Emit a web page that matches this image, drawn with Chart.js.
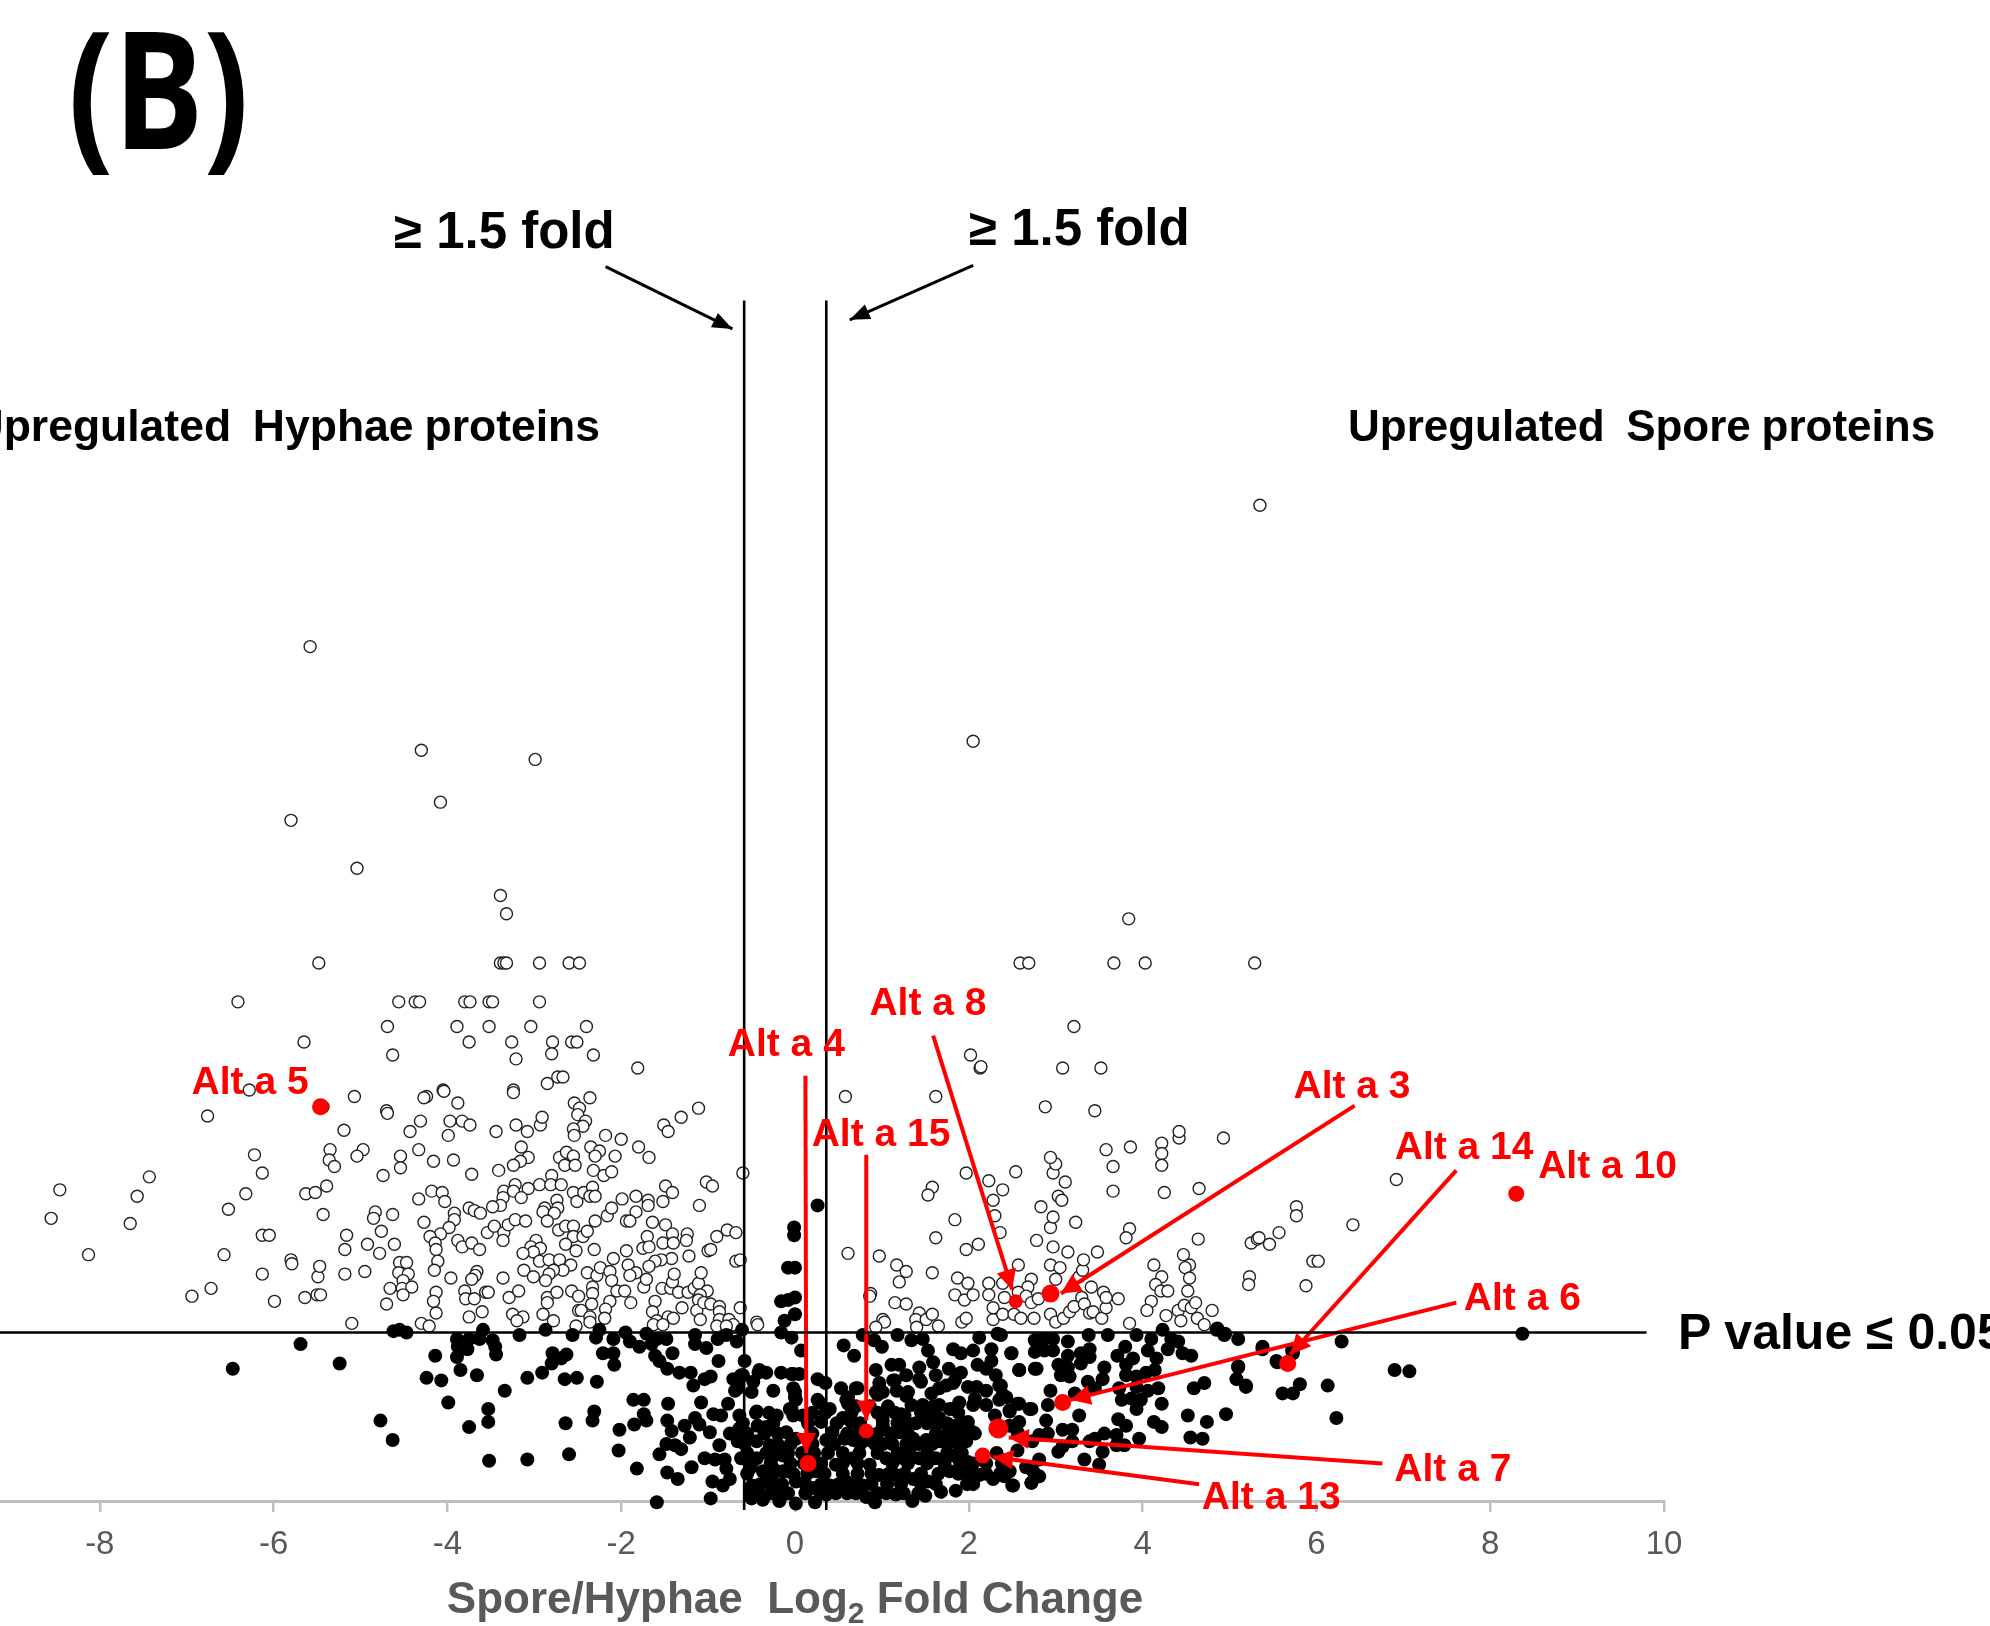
<!DOCTYPE html>
<html>
<head>
<meta charset="utf-8">
<script src="https://cdn.jsdelivr.net/npm/chart.js@4/dist/chart.umd.min.js"></script>
<style>
  html, body { margin: 0; padding: 0; background: #fff; }
  .page { position: relative; width: 1990px; height: 1626px; overflow: hidden; }
  .chart-box { position: absolute; left: -114px; top: 0; width: 2200px; height: 1626px; }
  .note { position: absolute; white-space: pre; font-family: "Liberation Sans", Arial, sans-serif; font-weight: bold; color: #000; line-height: 1; }
  .panel { left: 68px; top: 3px; font-family: "Open Sans", sans-serif; font-size: 134px; transform: scaleY(1.225); transform-origin: top left; }
  .fold-left { left: 394px; top: 205px; font-size: 51px; }
  .fold-right { left: 969px; top: 202px; font-size: 51px; }
  .hyphae { right: 1390px; top: 404px; font-size: 44.5px; word-spacing: -1.5px; }
  .spore { left: 1348px; top: 404px; font-size: 44px; word-spacing: -1.5px; }
  .pvalue { left: 1678px; top: 1307px; font-size: 50px; }
  .x-title { left: 0; width: 1590px; text-align: center; top: 1576px; font-size: 44px; color: #595959; }
  .x-title sub { font-size: 30px; line-height: 0; vertical-align: -10px; }
</style>
</head>
<body>
<div class="page">
  <div class="chart-box"><canvas id="myChart" width="2200" height="1626"></canvas></div>
  <div class="note panel">(B)</div>
  <div class="note fold-left">≥ 1.5 fold</div>
  <div class="note fold-right">≥ 1.5 fold</div>
  <div class="note hyphae">Upregulated  Hyphae proteins</div>
  <div class="note spore">Upregulated  Spore proteins</div>
  <div class="note pvalue">P value ≤ 0.05</div>
  <div class="note x-title">Spore/Hyphae  Log<sub>2</sub> Fold Change</div>
</div>
<script>
// [log2 fold change, -log10 p]
const hollowPoints = [
  [5.35,7.68],[-5.58,6.59],[2.05,5.86],[-4.30,5.79],[-2.99,5.72],[-4.08,5.39],[-5.80,5.25],[-5.04,4.88],[-3.39,4.67],[-3.32,4.53],
  [3.84,4.49],[-5.48,4.15],[-3.39,4.15],[-3.35,4.15],[-3.32,4.15],[-2.94,4.15],[-2.60,4.15],[-2.48,4.15],[2.59,4.15],[2.69,4.15],
  [3.67,4.15],[4.03,4.15],[5.29,4.15],[-6.41,3.85],[-4.56,3.85],[-4.37,3.85],[-4.32,3.85],[-3.80,3.85],[-3.74,3.85],[-3.52,3.85],
  [-3.48,3.85],[-2.94,3.85],[-4.69,3.66],[-3.89,3.66],[-3.52,3.66],[-3.04,3.66],[-2.40,3.66],[3.21,3.66],[-5.65,3.54],[-3.75,3.54],
  [-3.26,3.54],[-2.79,3.54],[-2.57,3.54],[-2.51,3.54],[-4.63,3.44],[-3.21,3.41],[-2.80,3.45],[-2.32,3.44],[2.02,3.44],[2.13,3.34],
  [3.08,3.34],[3.52,3.34],[-1.81,3.34],[-2.73,3.27],[-2.67,3.27],[-2.85,3.22],[-6.28,3.17],[-5.43,3.04],[-5.07,3.12],[-4.05,3.17],
  [-4.24,3.12],[-3.24,3.17],[0.58,3.12],[1.62,3.12],[2.88,3.04],[3.45,3.01],[-6.76,2.97],[-4.70,3.01],
  [-4.27,3.11],[-4.04,3.16],[-3.88,3.07],[-4.69,2.99],[-4.31,2.93],[-3.97,2.93],[-3.83,2.93],[-3.74,2.90],[-4.43,2.85],[-3.99,2.82],
  [-3.44,2.85],[-3.24,3.15],[-3.21,2.90],[-3.08,2.85],[-2.93,2.90],[-2.91,2.96],[-2.54,3.07],[-2.36,3.11],[-2.48,3.03],[-2.50,2.98],
  [-2.41,2.93],[-2.44,2.89],[-2.55,2.87],[-2.54,2.82],[-2.18,2.82],[-2.00,2.79],[-1.80,2.73],[-1.68,2.65],[-1.51,2.90],[-1.46,2.85],
  [-1.31,2.96],[-1.11,3.03],[-4.33,2.71],[-4.54,2.66],[-4.54,2.57],[-4.16,2.62],[-3.93,2.63],[-4.74,2.51],[-3.72,2.52],[-3.41,2.55],
  [-3.15,2.73],[-3.07,2.65],[-3.16,2.62],[-3.24,2.59],[-2.71,2.65],[-2.63,2.69],[-2.55,2.66],[-2.65,2.59],[-2.53,2.59],[-2.35,2.73],
  [-2.25,2.70],[-2.30,2.66],[-2.07,2.66],[-2.32,2.55],[-2.20,2.51],[-2.11,2.54],[-2.80,2.51],[-2.94,2.44],[-2.81,2.44],[-2.69,2.44],
  [-3.07,2.41],[-3.22,2.44],[-3.35,2.39],[-3.24,2.39],[-3.15,2.34],[-3.36,2.34],[-3.39,2.28],[-3.48,2.27],[-4.33,2.33],[-4.18,2.39],
  [-4.06,2.38],[-4.03,2.31],[-3.75,2.26],[-3.69,2.24],[-3.62,2.22],[-3.92,2.22],[-3.92,2.17],[-4.63,2.21],[-4.27,2.15],[-3.98,2.11],
  [-4.08,2.06],[-4.20,2.04],[-4.76,2.08],[-4.14,1.99],[-4.13,1.94],[-4.11,1.85],[-4.15,1.78],[-4.61,1.98],[-3.88,2.01],[-3.83,1.96],
  [-3.72,1.99],[-3.63,1.94],[-3.54,2.07],[-3.46,2.12],[-3.35,2.07],[-3.30,2.13],[-3.22,2.17],[-3.10,2.16],[-3.36,2.01],[-2.55,2.38],
  [-2.51,2.31],[-2.43,2.38],[-2.33,2.42],[-2.36,2.35],[-2.30,2.35],[-2.74,2.32],[-2.73,2.26],[-2.88,2.26],[-2.90,2.23],[-2.77,2.22],
  [-2.85,2.16],[-2.72,2.09],[-2.64,2.12],[-2.55,2.12],[-2.55,2.04],[-2.44,2.04],[-2.39,2.08],[-2.30,2.16],[-2.16,2.20],[-2.11,2.26],
  [-1.99,2.33],[-1.83,2.35],[-1.69,2.32],[-1.69,2.28],[-1.83,2.23],[-1.94,2.16],[-1.90,2.16],[-1.49,2.43],[-1.41,2.38],[-1.52,2.31],
  [-1.10,2.28],[-1.02,2.46],[-0.95,2.43],[-0.60,2.53],[-1.64,2.15],[-1.49,2.13],[-1.41,2.06],[-1.70,2.04],[-1.75,1.95],[-1.68,1.96],
  [-1.52,1.99],[-1.40,1.99],[-1.24,2.06],[-1.25,2.01],[-0.90,2.04],[-0.78,2.09],[-0.68,2.07],[-1.00,1.93],[-0.97,1.94],[-1.22,1.89],
  [-1.42,1.87],[-1.54,1.86],[-1.61,1.85],[-1.68,1.81],[-1.94,1.93],[-2.09,1.87],[-1.92,1.82],[-1.83,1.76],[-1.90,1.74],[-2.31,1.94],
  [-2.52,1.93],[-2.64,1.98],[-2.98,2.01],[-3.04,1.96],[-2.93,1.95],[-3.01,1.92],[-3.13,1.91],[-2.94,1.85],[-2.83,1.86],[-2.71,1.86],
  [-2.58,1.82],[-2.67,1.78],[-2.78,1.78],[-2.83,1.75],[-2.87,1.70],[-3.12,1.78],[-3.01,1.73],[-3.36,1.72],[-3.96,1.72],[-3.66,1.77],
  [-3.68,1.74],[-3.72,1.71],[-4.55,1.84],[-4.47,1.84],[-4.56,1.76],[-4.45,1.75],[-4.51,1.70],[-4.66,1.64],[-4.52,1.64],[-4.41,1.65],
  [-4.51,1.59],[-4.70,1.52],[-4.13,1.61],[-4.16,1.54],[-4.13,1.45],[-3.80,1.62],[-3.79,1.56],[-3.69,1.56],[-3.56,1.61],[-3.53,1.61],
  [-3.75,1.42],[-3.60,1.46],[-4.30,1.37],[-4.21,1.35],[-3.25,1.44],[-3.13,1.42],[-3.20,1.39],[-3.29,1.57],[-3.18,1.62],[-2.90,1.44],
  [-2.78,1.39],[-2.85,1.57],[-2.85,1.53],[-2.74,1.61],[-2.57,1.62],[-2.49,1.58],[-2.52,1.35],[-2.49,1.47],[-2.46,1.47],[-2.36,1.42],
  [-2.36,1.38],[-2.39,1.76],[-2.28,1.74],[-2.24,1.80],[-2.13,1.77],[-2.11,1.70],[-2.33,1.65],[-2.33,1.60],[-2.34,1.52],[-2.13,1.54],
  [-2.18,1.48],[-2.19,1.41],[-2.05,1.62],[-1.96,1.62],[-1.89,1.53],[-1.74,1.65],[-1.71,1.71],[-1.61,1.54],[-1.64,1.46],[-1.59,1.39],
  [-1.53,1.64],[-1.43,1.64],[-1.41,1.69],[-1.39,1.75],[-1.34,1.61],[-1.23,1.61],[-1.16,1.64],[-1.11,1.68],[-1.08,1.76],[-1.01,1.62],
  [-1.09,1.59],[-1.11,1.55],[-1.30,1.49],[-1.46,1.42],[-1.40,1.41],[-1.13,1.47],[-1.09,1.40],[-1.05,1.53],[-0.97,1.52],[-0.87,1.50],
  [-0.87,1.46],[-0.87,1.40],[-0.76,1.40],[-0.71,1.36],[-0.90,1.35],[-0.63,1.49],[-0.68,1.85],[-0.63,1.86],[-0.44,1.38],[-0.43,1.36],
  [-1.63,1.36],[-1.52,1.36],[-0.79,1.35],
  [-5.19,2.86],[-5.35,2.71],[-5.36,2.63],[-5.30,2.58],[-4.97,2.71],[-5.04,2.66],[-6.22,2.67],[-6.13,2.53],[-6.32,2.37],[-6.52,2.25],
  [-7.43,2.50],[-7.57,2.35],[-7.65,2.14],[-8.46,2.40],[-8.56,2.18],[-8.13,1.90],[-6.57,1.90],[-6.13,2.05],[-6.05,2.05],[-5.80,1.86],
  [-5.79,1.83],[-6.13,1.75],[-6.72,1.64],[-6.94,1.58],[-5.99,1.54],[-5.64,1.57],[-5.50,1.59],[-5.46,1.59],[-5.49,1.73],[-5.47,1.81],
  [-5.18,1.75],[-4.95,1.77],[-5.18,1.94],[-5.16,2.05],[-4.92,1.98],[-4.78,1.91],[-5.43,2.21],[-5.63,2.37],[-5.52,2.38],[-5.39,2.43],
  [-4.83,2.23],[-4.85,2.18],[-5.10,1.37],
  [0.61,1.91],[0.97,1.89],[1.17,1.82],[1.28,1.77],[1.20,1.69],[1.58,1.76],[0.87,1.60],[0.86,1.58],[1.15,1.53],[1.28,1.52],
  [1.01,1.40],[1.03,1.38],[0.93,1.34],[1.43,1.45],[1.39,1.40],[1.51,1.40],[1.58,1.44],[1.65,1.35],[1.40,1.34],[1.92,1.38],
  [1.97,1.41],[2.28,1.40],[2.28,1.49],[2.39,1.44],[1.84,1.59],[1.95,1.55],[2.05,1.59],[1.87,1.72],[1.99,1.68],[2.23,1.68],
  [2.23,1.59],[2.41,1.57],[2.39,1.68],[2.57,1.82],[2.72,1.71],[2.68,1.65],[2.57,1.61],[2.66,1.58],[2.52,1.44],[2.60,1.41],
  [2.75,1.41],[2.72,1.53],[2.80,1.56],[2.94,1.44],[3.00,1.38],[3.09,1.41],[3.16,1.46],[3.21,1.50],[3.30,1.57],[3.33,1.52],
  [3.39,1.45],[3.43,1.46],[3.53,1.41],[3.58,1.49],[3.72,1.56],[3.55,1.61],[3.58,1.57],[3.41,1.65],[3.27,1.73],[3.31,1.78],
  [3.32,1.86],[3.48,1.92],[2.94,1.82],[3.05,1.80],[3.00,1.71],[2.97,1.96],[3.14,1.92],[2.78,2.01],[2.94,2.11],[2.97,2.19],
  [3.23,2.15],[2.83,2.27],[3.03,2.35],[3.07,2.32],[2.97,2.53],[3.00,2.60],[2.94,2.65],[3.11,2.46],[2.54,2.54],[2.23,2.47],
  [2.39,2.40],[2.28,2.32],[2.30,2.20],[2.36,2.07],[1.97,2.53],[1.58,2.42],[1.53,2.36],[1.84,2.17],[1.62,2.03],[2.11,1.98],
  [1.97,1.94],[3.58,2.71],[3.86,2.73],[3.66,2.58],[3.66,2.39],[4.22,2.76],[4.22,2.68],[4.22,2.59],[4.42,2.80],[4.42,2.85],
  [4.93,2.80],[4.25,2.38],[4.65,2.41],[3.85,2.10],[3.81,2.03],[4.64,2.02],[4.13,1.82],[4.22,1.73],[4.15,1.67],[4.21,1.62],
  [4.29,1.62],[4.10,1.54],[4.05,1.47],[3.85,1.37],[4.27,1.43],[4.41,1.47],[4.48,1.51],[4.56,1.49],[4.61,1.53],[4.80,1.47],
  [4.44,1.39],[4.63,1.41],[4.71,1.36],[4.47,1.90],[4.54,1.82],[4.49,1.80],[4.54,1.72],[4.52,1.62],[5.25,1.99],[5.32,2.02],
  [5.23,1.73],[5.22,1.67],[6.92,2.48],[5.77,2.27],[5.77,2.20],[6.42,2.13],[5.34,2.03],[5.46,1.98],[5.57,2.07],[5.96,1.85],
  [6.02,1.85],[5.88,1.66],[2.14,3.35]
];

const solidPoints = [
  [-4.62,1.31],[-4.55,1.32],[-4.47,1.30],[-3.89,1.25],[-3.88,1.19],[-3.77,1.17],[-3.75,1.25],[-3.63,1.25],[-3.59,1.32],[-3.48,1.24],
  [-3.45,1.19],[-3.44,1.13],[-3.89,1.11],[-4.14,1.12],[-4.24,0.95],[-4.07,0.93],[-3.85,1.01],[-3.66,0.97],[-3.34,0.85],[-3.99,0.76],
  [-3.53,0.71],[-3.53,0.61],[-3.75,0.57],[-4.63,0.47],[-4.77,0.62],[-3.52,0.31],[-3.08,0.32],[-3.17,1.28],[-2.87,1.32],[-2.56,1.28],
  [-2.29,1.26],[-2.25,1.32],[-3.08,0.95],[-2.91,0.99],[-2.79,1.14],[-2.80,1.06],[-2.69,1.10],[-2.63,1.13],[-2.65,0.94],[-2.51,0.95],
  [-2.28,0.92],[-2.21,1.14],[-2.09,1.14],[-2.08,1.05],[-2.09,1.25],[-1.95,1.30],[-1.90,1.23],[-1.79,1.19],[-1.71,1.29],[-1.65,1.21],
  [-1.59,1.25],[-1.48,1.25],[-1.41,1.14],[-1.61,1.12],[-1.56,1.08],[-1.47,1.02],[-1.33,0.99],[-1.20,0.99],[-1.17,0.89],[-1.04,0.94],
  [-0.97,0.96],[-1.15,1.28],[-1.15,1.21],[-1.02,1.18],[-0.88,1.08],[-0.89,1.25],[-0.79,1.28],[-0.67,1.23],[-0.61,1.32],[-0.58,1.08],
  [-2.64,0.60],[-2.31,0.69],[-2.33,0.62],[-2.60,0.36],[-2.03,0.39],[-2.02,0.55],[-1.85,0.59],[-1.86,0.78],[-1.74,0.78],[-1.74,0.67],
  [-1.71,0.62],[-1.46,0.75],[-1.08,0.76],[-1.47,0.62],[-1.27,0.58],[-1.42,0.54],[-1.21,0.49],[-1.48,0.44],[-1.31,0.40],[-1.38,0.43],
  [-1.15,0.64],[-1.10,0.59],[-0.98,0.53],[-0.94,0.67],[-0.85,0.66],[-0.77,0.75],[-1.56,0.36],[-1.82,0.25],[-1.47,0.22],[-1.35,0.17],
  [-1.19,0.26],[-1.59,-0.01],[-0.97,0.02],[-1.04,0.33],[-0.92,0.32],[-0.81,0.32],[-0.87,0.43],[-0.95,0.15],[-0.83,0.12],[-0.75,0.17],
  [-0.79,0.25],[-0.75,0.52],[-0.64,0.66],[-0.64,0.56],[-0.66,0.46],[-0.62,0.33],[-0.52,0.25],[-0.52,0.10],[-0.50,0.02],[-0.71,0.94],
  [-0.62,0.97],[-0.66,0.87],[-0.50,0.84],[-0.42,0.99],[-0.33,0.99],[-0.16,0.99],[-0.25,0.85],[-0.44,0.69],[-0.21,0.66],[-0.43,0.58],
  [-0.33,0.57],[-0.10,0.53],[-0.44,0.46],[-0.29,0.43],[-0.44,0.33],[-0.18,0.38],[-0.25,0.25],[-0.14,0.23],[-0.33,0.15],[-0.25,0.07],
  [-0.14,0.05],[-0.37,0.02],[-0.02,0.66],[-0.06,0.71],[-0.02,0.87],[-0.02,0.98],[-0.16,1.30],[-0.04,1.26],
  [0.07,1.16],[0.56,1.20],[0.68,1.12],[0.78,1.28],[0.91,1.24],[1.00,1.19],[1.18,1.28],[1.34,1.24],[1.47,1.25],[1.53,1.16],
  [1.59,1.07],[1.82,1.17],[1.91,1.14],[2.05,1.16],[2.12,1.26],[2.26,1.17],[2.33,1.29],[2.49,1.14],[2.10,1.05],[2.26,1.08],
  [2.20,1.02],[2.31,0.97],[2.37,0.89],[2.58,1.01],[2.76,1.02],[2.76,1.24],[0.93,1.01],[1.11,1.05],[1.20,1.05],[1.43,1.03],
  [1.77,1.02],[1.91,0.99],[1.62,0.97],[1.45,0.92],[1.28,0.97],[1.15,0.93],[1.17,0.85],[0.97,0.91],[0.93,0.84],[0.70,0.87],
  [0.53,0.87],[0.59,0.78],[0.70,0.73],[0.86,0.73],[1.07,0.73],[1.28,0.81],[1.34,0.74],[1.57,0.83],[1.82,0.91],[1.99,0.88],
  [2.09,0.88],[2.20,0.85],[2.35,0.78],[2.20,0.74],[2.07,0.79],[1.78,0.71],[1.66,0.74],[1.47,0.74],[1.26,0.66],[1.01,0.66],
  [1.01,0.58],[1.39,0.60],[1.64,0.60],[1.85,0.58],[1.99,0.61],[2.07,0.52],[2.43,0.80],[2.56,0.75],[2.72,0.71],[2.30,0.66],
  [2.47,0.70],[2.58,0.61],[0.05,0.98],[0.26,0.94],[0.35,0.91],[0.00,0.84],[0.01,0.78],[0.28,0.76],[0.40,0.71],[0.09,0.66],
  [0.30,0.61],[0.55,0.64],[0.65,0.61],[0.43,0.53],[0.36,0.47],[0.57,0.48],[0.67,0.47],[0.85,0.47],[1.01,0.44],[1.20,0.53],
  [1.36,0.48],[1.51,0.47],[1.67,0.46],[1.82,0.48],[1.97,0.46],[0.01,0.48],[-0.14,0.35],[-0.27,0.33],[-0.37,0.23],[-0.10,0.23],
  [-0.25,0.12],[0.01,0.15],[0.24,0.23],[0.47,0.28],[0.67,0.33],[0.86,0.28],[1.05,0.33],[1.24,0.33],[1.43,0.33],[1.62,0.33],
  [1.82,0.35],[1.99,0.30],[2.12,0.20],[2.28,0.17],[2.44,0.23],[2.50,0.12],[2.72,0.14],[0.40,0.12],[0.59,0.15],[0.78,0.12],
  [0.97,0.20],[1.16,0.20],[1.36,0.17],[1.53,0.15],[1.78,0.23],[1.85,0.08],[1.68,0.07],[1.50,0.04],[1.35,0.00],[1.16,0.05],
  [0.92,-0.01],[0.82,0.03],[0.36,0.05],[0.23,-0.01],[0.01,-0.02],[-0.18,0.00],[-0.37,0.01],[-0.50,0.05],[0.21,0.10],[-0.49,0.12],
  [2.37,1.28],[2.49,1.14],[2.58,1.01],[2.78,1.02],[2.80,1.24],[2.76,1.15],[2.87,1.25],[2.87,1.16],[2.97,1.25],[2.97,1.16],
  [3.14,1.23],[3.38,1.28],[3.60,1.28],[3.93,1.28],[4.23,1.32],[4.10,1.25],[4.33,1.25],[4.29,1.17],[4.41,1.23],[4.46,1.14],
  [4.56,1.12],[4.85,1.32],[4.94,1.28],[5.10,1.25],[5.38,1.17],[3.39,1.17],[3.29,1.14],[3.14,1.12],[3.03,1.05],[3.14,1.03],
  [3.29,1.06],[3.39,1.11],[3.06,0.97],[3.16,0.96],[3.56,1.03],[3.54,0.94],[3.37,0.92],[3.45,0.87],[3.71,1.12],[3.80,1.19],
  [3.89,1.10],[3.81,1.05],[4.06,1.16],[4.16,1.10],[4.04,0.99],[4.14,1.01],[3.81,0.97],[3.93,0.96],[4.18,0.87],[4.06,0.85],
  [3.93,0.88],[3.73,0.87],[3.76,0.78],[3.98,0.78],[3.93,0.71],[3.87,0.79],[4.22,0.75],[2.94,0.85],[3.22,0.83],[2.91,0.74],
  [3.27,0.66],[2.89,0.62],[3.72,0.63],[3.81,0.58],[4.13,0.61],[4.22,0.57],[4.52,0.66],[4.74,0.61],[4.96,0.67],[4.59,0.87],
  [4.71,0.91],[5.10,1.03],[5.08,0.94],[5.19,0.88],[5.55,1.07],[5.73,1.14],[5.61,0.83],[5.73,0.83],[5.81,0.90],[4.55,0.49],
  [4.69,0.48],[3.96,0.48],[3.70,0.51],[3.56,0.52],[3.45,0.48],[3.39,0.46],[3.54,0.38],[3.79,0.43],[3.70,0.43],[3.33,0.32],
  [3.50,0.28],[3.19,0.55],[3.08,0.55],[3.19,0.46],[3.03,0.38],[3.08,0.42],[2.91,0.52],[2.81,0.51],[2.73,0.46],[2.56,0.39],
  [2.81,0.32],[2.74,0.23],[2.81,0.19],[2.72,0.14],[2.51,0.12],[2.66,0.26],[2.47,0.23],[2.41,0.19],[2.70,0.71],[2.58,0.75],
  [2.39,0.82],[2.35,0.89],[2.47,0.69],[2.47,0.58],[2.56,0.53],
  [8.37,1.29],[6.29,1.23],[6.90,1.01],[7.07,1.00],[6.13,0.89],[6.23,0.64],[5.19,0.89],[5.10,1.04],[5.38,1.19],[5.54,1.08],
  [5.72,1.16],[4.95,1.29],[4.86,1.33],[0.26,2.28],[-0.01,2.11],[-0.01,2.05],[-0.08,1.80],[0.00,1.80],[-0.16,1.54],[-0.08,1.55],
  [0.00,1.57],[-0.12,1.39],[0.00,1.44],[-5.69,1.21],[-6.47,1.02],[-5.24,1.06],
  [-0.42,0.06],[-0.28,0.06],[-0.08,0.06],[0.12,0.06],[0.30,0.06],[0.47,0.06],[0.60,0.06],[0.70,0.06],[0.95,0.06],[1.05,0.06],[1.25,0.06],[1.42,0.06],
  [-0.40,0.13],[-0.15,0.13],[0.12,0.13],[0.30,0.13],[0.50,0.13],[0.68,0.13],[0.88,0.13],[1.06,0.13],[1.22,0.13],[1.45,0.13],[1.62,0.13],[1.98,0.13],[2.05,0.13],
  [-0.55,0.21],[-0.25,0.21],[-0.02,0.21],[0.14,0.21],[0.34,0.21],[0.55,0.21],[0.72,0.21],[0.88,0.21],[1.08,0.21],[1.26,0.21],[1.45,0.21],[1.65,0.21],[1.88,0.21],[2.00,0.21],[2.20,0.21],[2.36,0.21],
  [-0.50,0.29],[-0.28,0.29],[-0.05,0.29],[0.10,0.29],[0.30,0.29],[0.55,0.29],[0.72,0.29],[1.12,0.29],[1.30,0.29],[1.52,0.29],[1.72,0.29],[1.90,0.29],[2.05,0.29],[2.20,0.29],[2.38,0.29],
  [-0.55,0.37],[-0.33,0.37],[-0.08,0.37],[0.08,0.37],[0.22,0.37],[0.38,0.37],[0.55,0.37],[0.74,0.37],[0.95,0.37],[1.18,0.37],[1.32,0.37],[1.52,0.37],[1.75,0.37],[1.92,0.37],[2.32,0.37],
  [-0.58,0.44],[-0.20,0.44],[-0.05,0.44],[0.20,0.44],[0.45,0.44],[0.75,0.44],[0.92,0.44],[1.12,0.44],[1.28,0.44],[1.42,0.44],[1.58,0.44],[1.75,0.44],[1.88,0.44],
  [-0.55,0.52],[-0.35,0.52],[-0.20,0.52],[0.20,0.52],[0.60,0.52],[0.72,0.52],[0.95,0.52],[1.10,0.52],[1.30,0.52],[1.62,0.52],[1.75,0.52],[1.92,0.52],
  [-0.60,0.60],[-0.25,0.60],[0.15,0.60],[0.48,0.60],[0.75,0.60],[1.18,0.60],[1.30,0.60],[1.52,0.60],[1.75,0.60],[1.92,0.60],
  [-0.45,0.68],[-0.30,0.68],[0.20,0.68],[0.35,0.68],[0.65,0.68],[0.95,0.68],[1.15,0.68],[1.45,0.68],[1.60,0.68],[1.88,0.68],
  [-0.41,1.01],[-0.48,0.92],[-0.67,0.93],[-0.69,0.85],[-0.60,0.97],[-0.04,0.98],[0.00,0.80],[-0.04,0.71],[0.26,0.78],[0.61,0.80],
  [0.72,0.87],[0.61,0.75],[0.95,0.82],[1.01,0.84],[1.13,0.93],[1.30,0.84],[1.22,0.67],[1.43,0.94],[1.66,0.87],[1.74,0.89],
  [1.84,0.93],[1.89,0.76],[1.82,0.71],[1.66,0.64],[1.59,0.73],[1.47,0.66],[1.20,0.58],[1.01,0.62],[2.05,0.74],[1.97,0.58],[2.05,0.53]
];

// labelled allergens: name, point, label anchor, arrow tail, arrow tip
const altNames = ['Alt a 5', 'Alt a 4', 'Alt a 8', 'Alt a 15', 'Alt a 3', 'Alt a 14', 'Alt a 10', 'Alt a 6', 'Alt a 7', 'Alt a 13'];
const altX = [-5.46, 0.15, 2.54, 0.82, 2.94, 5.67, 8.30, 3.08, 2.34, 2.16];
const altY = [3.04, 0.29, 1.54, 0.54, 1.60, 1.06, 2.37, 0.76, 0.56, 0.35];
const altRadius = [8.5, 8.5, 7, 7.5, 9, 8.5, 8, 8.5, 10, 8];
const altLabelX = [-6.27, -0.10, 1.53, 0.99, 6.41, 7.70, 9.35, 8.37, 7.57, 5.48];
const altLabelY = [3.24, 3.53, 3.85, 2.84, 3.21, 2.74, 2.59, 1.57, 0.25, 0.04];
const altArrows = [
  null,
  [[0.12, 3.28], [0.13, 0.37]],
  [[1.59, 3.59], [2.50, 1.63]],
  [[0.82, 2.67], [0.82, 0.62]],
  [[6.44, 3.05], [3.06, 1.60]],
  [[7.61, 2.55], [5.70, 1.13]],
  null,
  [[7.61, 1.53], [3.17, 0.78]],
  [[6.76, 0.29], [2.46, 0.49]],
  [[4.65, 0.13], [2.28, 0.34]]
];

// cut-off lines and the two arrows pointing at them
const foldLeft = -0.585;
const foldRight = 0.36;
const foldTop = 9.26;
const foldBottom = -0.07;
const pValueLine = 1.30;
const pValueLineEnd = 9.8;
const foldArrows = [
  [[-2.18, 9.52], [-0.72, 9.04]],
  [[2.05, 9.53], [0.63, 9.11]]
];

const xTicks = [-10, -8, -6, -4, -2, 0, 2, 4, 6, 8, 10];

const toXY = (p) => ({ x: p[0], y: p[1] });
const lineSet = (pts, color, width) => ({
  type: 'scatter',
  data: pts.map(toXY),
  showLine: true,
  pointRadius: 0,
  borderColor: color,
  backgroundColor: color,
  borderWidth: width,
  clip: false,
  order: 1
});

const datasets = [
  {
    data: hollowPoints.map(toXY),
    backgroundColor: '#fff',
    borderColor: '#222',
    borderWidth: 1.4,
    pointRadius: 6,
    clip: false,
    order: 5
  },
  {
    data: solidPoints.map(toXY),
    backgroundColor: '#000',
    borderColor: '#000',
    borderWidth: 0,
    pointRadius: 7,
    clip: false,
    order: 4
  },
  lineSet([[foldLeft, foldTop], [foldLeft, foldBottom]], '#000', 2.6),
  lineSet([[foldRight, foldTop], [foldRight, foldBottom]], '#000', 2.6),
  lineSet([[-10, pValueLine], [pValueLineEnd, pValueLine]], '#000', 2.6),
  lineSet(foldArrows[0], '#000', 3),
  lineSet(foldArrows[1], '#000', 3),
  {
    data: altX.map((x, i) => ({ x: x, y: altY[i] })),
    backgroundColor: '#ff0000',
    borderWidth: 0,
    pointRadius: altRadius,
    clip: false,
    order: 2
  }
];
altArrows.forEach((a) => {
  if (a) datasets.push(lineSet(a, '#ff0000', 4));
});

function drawHead(ctx, chart, arrow, color, len, halfWidth) {
  const sx = chart.scales.x, sy = chart.scales.y;
  const x0 = sx.getPixelForValue(arrow[0][0]), y0 = sy.getPixelForValue(arrow[0][1]);
  const x1 = sx.getPixelForValue(arrow[1][0]), y1 = sy.getPixelForValue(arrow[1][1]);
  const a = Math.atan2(y1 - y0, x1 - x0);
  ctx.save();
  ctx.translate(x1, y1);
  ctx.rotate(a);
  ctx.fillStyle = color;
  ctx.beginPath();
  ctx.moveTo(0, 0);
  ctx.lineTo(-len, -halfWidth);
  ctx.lineTo(-len, halfWidth);
  ctx.closePath();
  ctx.fill();
  ctx.restore();
}

// arrow heads and the red labels sit on top of the marks
const notesPlugin = {
  id: 'notes',
  afterDatasetsDraw(chart) {
    const ctx = chart.ctx;
    foldArrows.forEach((a) => drawHead(ctx, chart, a, '#000', 20, 8));
    altArrows.forEach((a) => {
      if (a) drawHead(ctx, chart, a, '#ff0000', 20, 10);
    });
    ctx.save();
    ctx.fillStyle = '#ff0000';
    ctx.font = 'bold 39px "Liberation Sans", Arial, sans-serif';
    ctx.textAlign = 'center';
    ctx.textBaseline = 'middle';
    altNames.forEach((name, i) => {
      ctx.fillText(name, chart.scales.x.getPixelForValue(altLabelX[i]), chart.scales.y.getPixelForValue(altLabelY[i]) + 2);
    });
    ctx.restore();
  }
};

new Chart(document.getElementById('myChart'), {
  type: 'scatter',
  data: { datasets: datasets },
  plugins: [notesPlugin],
  options: {
    responsive: false,
    animation: false,
    layout: { padding: { left: 40, right: 422, top: 7, bottom: 0 } },
    plugins: { legend: { display: false }, tooltip: { enabled: false } },
    scales: {
      x: {
        type: 'linear',
        min: -10,
        max: 10,
        afterBuildTicks(scale) { scale.ticks = xTicks.map((v) => ({ value: v })); },
        afterFit(scale) { scale.height = 125; },
        border: { color: '#bfbfbf', width: 3 },
        grid: { drawOnChartArea: false, drawTicks: true, tickLength: 11, color: '#bfbfbf', lineWidth: 2.5 },
        ticks: {
          color: '#595959',
          font: { family: '"Liberation Sans", Arial, sans-serif', size: 33 },
          padding: 13,
          maxRotation: 0,
          autoSkip: false,
          callback: (v) => String(v)
        }
      },
      y: { type: 'linear', min: 0, max: 11.5, display: false }
    }
  }
});
</script>
</body>
</html>
